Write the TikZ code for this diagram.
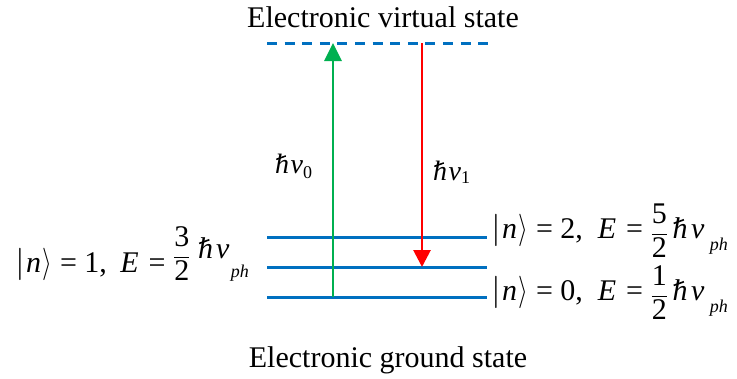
\documentclass[tikz,border=0pt]{standalone}
\usepackage{graphicx}
\usepackage{fontspec}
\setmainfont{Liberation Serif}
\usetikzlibrary{arrows.meta}
\definecolor{lvlblue}{RGB}{0,112,192}
\definecolor{upgreen}{RGB}{0,176,80}
\definecolor{downred}{RGB}{255,0,0}
\newcommand{\hb}{\makebox[0pt][l]{\hspace{0.03em}\raisebox{0.46em}{\rotatebox{20}{\rule{0.36em}{0.055em}}}}\textit{h}}
\newcommand{\ketn}{\scalebox{1.4}[1.3]{$\big|$}\hspace{0.04em}\textit{n}\hspace{0.06em}\scalebox{1}[1.3]{$\big\rangle$}}
\newcommand{\subsc}[2]{\raisebox{#1}{\fontsize{18}{20}\selectfont #2}}
\newcommand{\frc}[2]{$\displaystyle\frac{\mbox{#1}}{\mbox{#2}}$}
\newcommand{\eqs}{\hspace{0.25em}=\hspace{0.25em}}
\newcommand{\itE}{\textit{E}\hspace{0.08em}}
\begin{document}
\begin{tikzpicture}[x=1pt,y=-1pt,
  level/.style={draw=lvlblue,line width=3pt},
  vlevel/.style={draw=lvlblue,line width=3pt,dash pattern=on 10pt off 7.6pt},
  uparrow/.style={draw=upgreen,line width=2.8pt,-{Triangle[length=18pt,width=17pt]}},
  downarrow/.style={draw=downred,line width=2.8pt,-{Triangle[length=17pt,width=17pt]}},
  txt/.style={inner sep=0pt,font=\fontsize{30}{36}\selectfont},
  lbl/.style={inner sep=0pt,font=\fontsize{30}{36}\selectfont},
  nulbl/.style={inner sep=0pt,font=\fontsize{28}{34}\selectfont}]
\useasboundingbox (0,0) rectangle (737,378);
% levels
\coordinate (v0l) at (267,43);
\coordinate (v0r) at (488,43);
\coordinate (n2l) at (267,237);
\coordinate (n2r) at (487,237);
\coordinate (n1l) at (267,267);
\coordinate (n1r) at (487,267);
\coordinate (n0l) at (267,297);
\coordinate (n0r) at (487,297);
\draw[vlevel] (v0l) -- (v0r);
\draw[level] (n2l) -- (n2r);
\draw[level] (n1l) -- (n1r);
\draw[level] (n0l) -- (n0r);
% arrows
\coordinate (gs) at (333,297);
\coordinate (gt) at (333,43);
\coordinate (rs) at (422,43);
\coordinate (rt) at (422,267);
\draw[uparrow] (gs) -- (gt);
\draw[downarrow] (rs) -- (rt);
% texts
\node[txt,anchor=base] (vtitle) at (383,27) {Electronic virtual state};
\node[txt,anchor=base] (gtitle) at (388,367) {Electronic ground state};
\node[nulbl,anchor=base west] (nu0) at (275,173) {\hb\hspace{0.05em}\textit{ν}\subsc{-5pt}{0}};
\node[nulbl,anchor=base west] (nu1) at (433,180) {\hb\hspace{0.05em}\textit{ν}\subsc{-3pt}{1}};
\node[lbl,anchor=base west] (lab1) at (15,272) {\ketn\eqs 1,\hspace{0.45em}\itE\eqs\raisebox{9pt}{\frc{3}{2}}\hspace{0.25em}\raisebox{14pt}{\hb\hspace{0.1em}\textit{ν}}\hspace{0.05em}\subsc{-5pt}{\textit{ph}}};
\node[lbl,anchor=base west] (lab2) at (491,238) {\ketn\eqs 2,\hspace{0.5em}\itE\eqs\raisebox{-2pt}{\frc{5}{2}}\hspace{0.15em}\hb\hspace{0.12em}\textit{ν}\hspace{0.18em}\subsc{-12pt}{\textit{ph}}};
\node[lbl,anchor=base west] (lab0) at (491,300) {\ketn\eqs 0,\hspace{0.5em}\itE\eqs\raisebox{-2pt}{\frc{1}{2}}\hspace{0.15em}\hb\hspace{0.12em}\textit{ν}\hspace{0.18em}\subsc{-12pt}{\textit{ph}}};
\end{tikzpicture}
\end{document}
